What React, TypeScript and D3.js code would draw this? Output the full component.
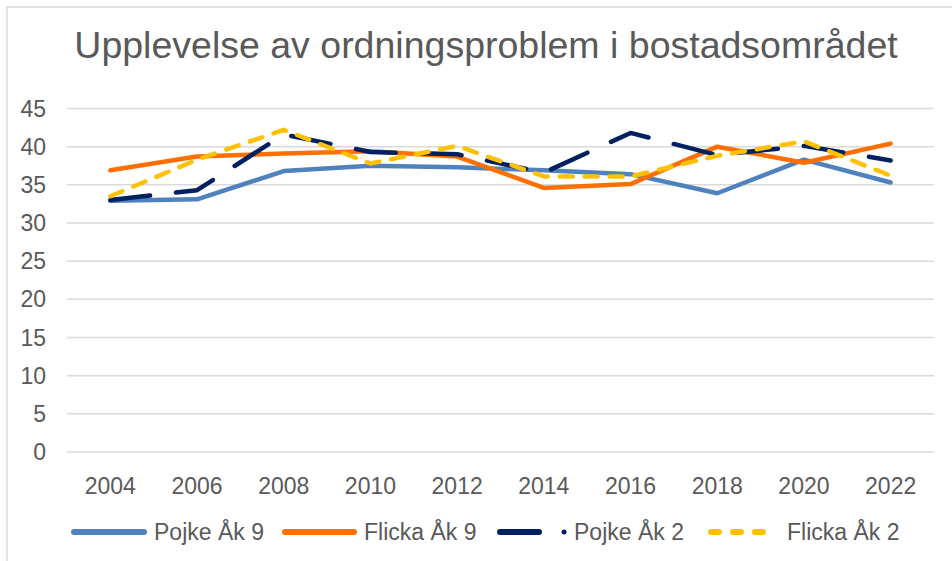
import React from "react";
import * as d3 from "d3";

const years = ["2004", "2006", "2008", "2010", "2012", "2014", "2016", "2018", "2020", "2022"];
const pojke9 = [32.9, 33.1, 36.8, 37.5, 37.3, 36.9, 36.4, 33.9, 38.3, 35.3];
const flicka9 = [36.9, 38.7, 39.1, 39.4, 38.7, 34.6, 35.1, 40.0, 37.9, 40.4];
const pojke2 = [33.0, 34.3, 41.6, 39.3, 39.0, 36.6, 41.8, 38.9, 40.1, 38.2];
const flicka2 = [33.5, 38.3, 42.2, 37.8, 40.1, 36.1, 36.1, 38.8, 40.7, 36.2];
const yTicks = [0, 5, 10, 15, 20, 25, 30, 35, 40, 45];
const seriesNames = ["Pojke Åk 9", "Flicka Åk 9", "Pojke Åk 2", "Flicka Åk 2"];

const W = 952;
const H = 561;
const FONT = "'Liberation Sans', Arial, sans-serif";
const TXT = "#595959";

export default function App() {
  const x = d3.scalePoint<string>().domain(years).range([67, 934]).padding(0.5);
  const y = d3.scaleLinear().domain([0, 45]).range([452, 108.5]);
  const line = d3
    .line<number>()
    .x((_, i) => x(years[i]) as number)
    .y((d) => y(d));

  const series = [
    { name: seriesNames[0], data: pojke9, color: "#4F81BD", dash: undefined as string | undefined },
    { name: seriesNames[1], data: flicka9, color: "#FF6F00", dash: undefined },
    { name: seriesNames[2], data: pojke2, color: "#002060", dash: "40,26" },
    { name: seriesNames[3], data: flicka2, color: "#FFC000", dash: "13,12" },
  ];

  const legendY = 532;

  return (
    <svg
      width={W}
      height={H}
      style={{ position: "absolute", left: 0, top: 0, display: "block", background: "#fff" }}
      fontFamily={FONT}
    >
      <rect x={7} y={7} width={W + 10} height={H + 10} fill="#fff" stroke="#D9D9D9" strokeWidth={1.5} />
      <text x={486} y={58} textAnchor="middle" fontSize={37.5} fill={TXT}>
        Upplevelse av ordningsproblem i bostadsområdet
      </text>
      {yTicks.map((t) => (
        <g key={t}>
          <line x1={67} x2={934} y1={y(t)} y2={y(t)} stroke="#D9D9D9" strokeWidth={1.5} />
          <text x={46} y={y(t) + 8} textAnchor="end" fontSize={23} fill={TXT}>
            {t}
          </text>
        </g>
      ))}
      {years.map((yr) => (
        <text key={yr} x={x(yr)} y={494} textAnchor="middle" fontSize={23} fill={TXT}>
          {yr}
        </text>
      ))}
      {series.map((s) => (
        <path
          key={s.name}
          d={line(s.data) || ""}
          fill="none"
          stroke={s.color}
          strokeWidth={4.5}
          strokeLinecap="round"
          strokeLinejoin="round"
          strokeDasharray={s.dash}
        />
      ))}
      <g>
        <line x1={74} x2={144} y1={legendY} y2={legendY} stroke={series[0].color} strokeWidth={6} strokeLinecap="round" />
        <text x={154} y={legendY + 8} fontSize={23} fill={TXT}>{seriesNames[0]}</text>
        <line x1={285} x2={354} y1={legendY} y2={legendY} stroke={series[1].color} strokeWidth={6} strokeLinecap="round" />
        <text x={364} y={legendY + 8} fontSize={23} fill={TXT}>{seriesNames[1]}</text>
        <line x1={500} x2={539} y1={legendY} y2={legendY} stroke={series[2].color} strokeWidth={6} strokeLinecap="round" />
        <line x1={564} x2={564.1} y1={legendY} y2={legendY} stroke={series[2].color} strokeWidth={5} strokeLinecap="round" />
        <text x={574} y={legendY + 8} fontSize={23} fill={TXT}>{seriesNames[2]}</text>
        <line x1={711} x2={767} y1={legendY} y2={legendY} stroke={series[3].color} strokeWidth={6} strokeLinecap="round" strokeDasharray="8,14" />
        <text x={787} y={legendY + 8} fontSize={23} fill={TXT}>{seriesNames[3]}</text>
      </g>
    </svg>
  );
}
